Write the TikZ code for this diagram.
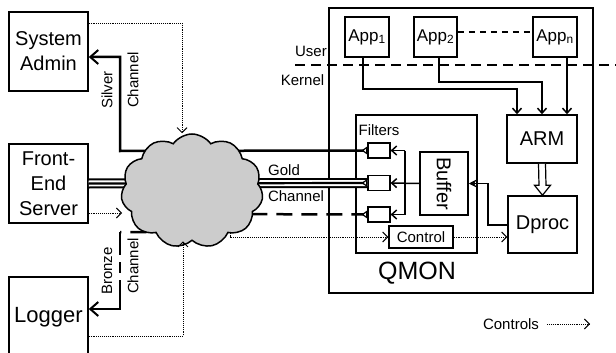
\documentclass[tikz,border=0pt]{standalone}
\usepackage{fontspec}
\setmainfont{Liberation Sans}
\usetikzlibrary{arrows.meta,shapes.symbols,calc}
\begin{document}
\begin{tikzpicture}[x=1pt,y=-1pt,
  box/.style={draw,line width=1.5pt,align=center,inner sep=0pt},
  big/.style={font=\fontsize{20}{25}\selectfont},
  appf/.style={font=\fontsize{17}{19}\selectfont},
  lbl/.style={font=\fontsize{15}{17}\selectfont,inner sep=0pt},
  chan/.style={line width=2.5pt},
  barb/.style={-{Straight Barb[length=8pt,width=14pt,line width=2pt]}},
  ctl/.style={densely dotted,line width=0.9pt,-{Straight Barb[length=5pt,width=10pt,line width=0.9pt,line cap=butt]}},
  flow/.style={line width=1.5pt,-{Straight Barb[length=5pt,width=9pt,line width=1.5pt]}},
  funnel/.style={line width=1.2pt,-{Triangle[reversed,length=6pt,width=8pt,fill=white]}},
  gold/.style={line width=2.2pt,preaction={draw,line width=10pt},preaction={draw,white,line width=6pt}}
]
\useasboundingbox (0,0) rectangle (616,353);
\clip (0,0) rectangle (616,353);

% left boxes
\node[box,big,minimum width=79pt,minimum height=79pt] (admin) at (48.5,51.5) {System\\Admin};
\node[box,big,minimum width=79pt,minimum height=79pt] (server) at (48.5,183.5) {Front-\\End\\Server};
\node[box,minimum width=79pt,minimum height=80pt,font=\fontsize{22}{25}\selectfont] (logger) at (48.5,317) {Logger};

% QMON outer
\node[box,minimum width=264pt,minimum height=285pt] (qmon) at (461,150.5) {};
\node[inner sep=0pt,font=\fontsize{25}{28}\selectfont] (qmonlbl) at (417,273) {QMON};

% user/kernel
\coordinate (uk1) at (295,65);
\coordinate (uk2) at (616,65);
\draw[line width=2.8pt,dash pattern=on 10pt off 6pt] (uk1) -- (uk2);
\node[lbl] (user) at (311,51) {User};
\node[lbl] (kernel) at (302.5,80) {Kernel};

% apps
\node[box,appf,minimum width=44pt,minimum height=40pt] (app1) at (367,37) {App\textsubscript{1}};
\node[box,appf,minimum width=43pt,minimum height=40pt] (app2) at (435.5,37) {App\textsubscript{2}};
\node[box,appf,minimum width=44pt,minimum height=40pt] (appn) at (555,37) {App\textsubscript{n}};
\draw[line width=1.2pt,dash pattern=on 6pt off 5pt] ([yshift=5pt]app2.east) -- ([yshift=5pt]appn.west);

% ARM, Dproc
\node[box,big,minimum width=70pt,minimum height=48pt] (arm) at (542,139) {ARM};
\node[box,big,minimum width=69pt,minimum height=57pt] (dproc) at (542.5,224.5) {Dproc};

\coordinate (a1) at (363,89);
\coordinate (a2) at (439,82);
\draw[flow] (app1.south -| a1) -- (a1) -| ([xshift=-25pt]arm.north);
\draw[flow] (app2.south -| a2) -- (a2) -| (arm.north);
\draw[flow] ([xshift=12pt]appn.south) -- ([xshift=25pt]arm.north);
% hollow arrow ARM -> Dproc
\draw[line width=1.2pt,fill=white,line join=miter]
  ([xshift=-3.5pt]arm.south) -- ([xshift=-3.5pt,yshift=10pt]dproc.north)
  -- ([xshift=-8pt,yshift=10pt]dproc.north) -- (dproc.north)
  -- ([xshift=8pt,yshift=10pt]dproc.north) -- ([xshift=3.5pt,yshift=10pt]dproc.north)
  -- ([xshift=3.5pt]arm.south);

% inner box
\node[box,minimum width=121pt,minimum height=138pt] (inner) at (416.5,184) {};
\node[lbl] (filters) at (379,130) {Filters};
\node[draw,line width=1.2pt,minimum width=22pt,minimum height=15pt,inner sep=0pt] (f1) at (379,150.5) {};
\node[draw,line width=1.2pt,minimum width=22pt,minimum height=15pt,inner sep=0pt] (f2) at (379,183) {};
\node[draw,line width=1.2pt,minimum width=22pt,minimum height=15pt,inner sep=0pt] (f3) at (379,214.5) {};
\node[box,minimum width=48pt,minimum height=63pt] (buffer) at (444,183.5) {};
\node[rotate=-90,inner sep=0pt,font=\fontsize{20}{22}\selectfont] (buftxt) at (buffer.center) {Buffer};
\node[box,minimum width=64pt,minimum height=22pt,font=\fontsize{15}{17}\selectfont] (control) at (421,237) {Control};

\coordinate (br) at (405,183);
\draw[flow] (buffer.west) -- (f2.east);
\draw[line width=1.5pt] (br |- f1.east) -- (br |- f3.east);
\draw[flow] (br |- f1.east) -- (f1.east);
\draw[flow] (br |- f3.east) -- (f3.east);
\coordinate (db) at (488,225);
\draw[line width=1.5pt,-{Stealth[length=8pt,width=8pt]}] (db -| dproc.west) -- (db) |- (buffer.east);
\draw[ctl] (control.east) -- (control.east -| dproc.west);

% channels (behind cloud)
\coordinate (sv1) at (120,151);
\coordinate (sv2) at (120,57);
\draw[chan,barb] (f1.west) -- (sv1) -- (sv2) -- (sv2 -| admin.east);
\coordinate (bz0) at (200,214);
\coordinate (bz1) at (120,232);
\coordinate (bz2) at (120,309);
\draw[chan,dash pattern=on 16pt off 9pt] (f3.west) -- (bz0) -- (160,232) -- (bz1);
\draw[chan,barb,dash pattern=on 23pt off 7pt on 11pt off 7pt on 80pt] (bz1) -- (bz2) -- (bz2 -| logger.east);
\draw[gold] (server.east) -- (f2.west);

% controls from cloud
\coordinate (cc1) at (230,225);
\draw[ctl] (cc1) |- (control.west);

% cloud
\node[cloud,cloud puffs=11,cloud puff arc=110,cloud ignores aspect,draw,line width=1.5pt,fill=gray!40,minimum width=142pt,minimum height=114pt] (net) at (192,191) {};

% funnels
\draw[funnel] ([xshift=-9pt]f1.west) -- (f1.west);
\draw[funnel] ([xshift=-9pt]f2.west) -- (f2.west);
\draw[funnel] ([xshift=-9pt]f3.west) -- (f3.west);

% dotted controls to cloud
\coordinate (d1) at (182,23);
\draw[ctl] (d1 -| admin.east) -- (d1) -- (d1 |- net.north);
\coordinate (d2) at (122,213);
\draw[ctl] (d2 -| server.east) -- (d2);
\coordinate (d3) at (183,336);
\draw[ctl] (d3 -| logger.east) -- (d3) -- (d3 |- net.south);

% labels
\node[lbl,rotate=90] (slv) at (107,90) {Silver};
\node[lbl,rotate=90] (slvc) at (133,80) {Channel};
\node[lbl,rotate=90] (brz) at (107,271) {Bronze};
\node[lbl,rotate=90] (brzc) at (133,266) {Channel};
\node[lbl] (gld) at (284,170) {Gold};
\node[lbl] (gldc) at (296,196) {Channel};

% legend
\node[lbl] (legend) at (511,324) {Controls};
\coordinate (lg1) at (547,324);
\coordinate (lg2) at (590,324);
\draw[ctl] (lg1) -- (lg2);
\end{tikzpicture}
\end{document}
